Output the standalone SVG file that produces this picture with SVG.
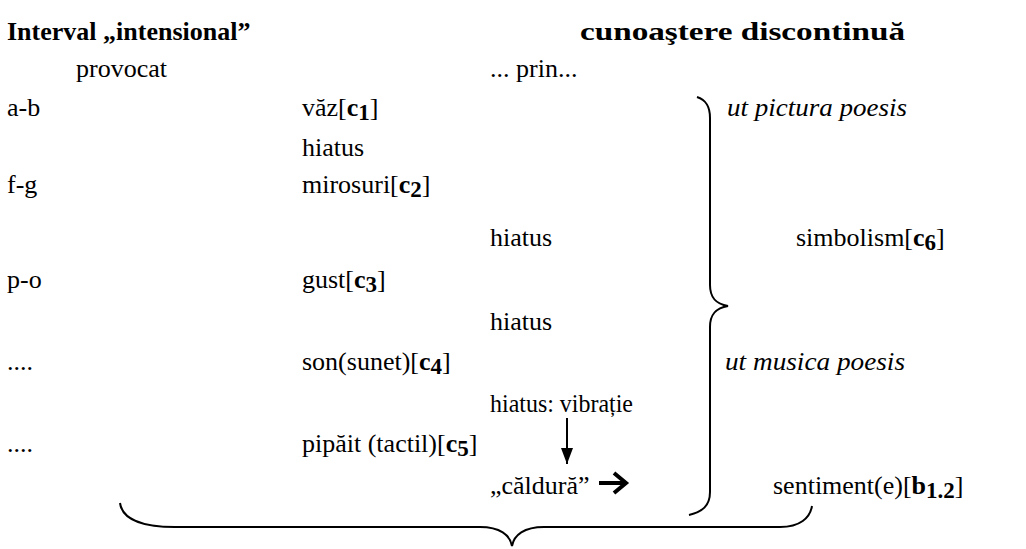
<svg xmlns="http://www.w3.org/2000/svg" width="1026" height="549" viewBox="0 0 1026 549">
<defs>
<marker id="ah" viewBox="0 0 12 16" refX="6" refY="16" markerWidth="12" markerHeight="16" orient="0" markerUnits="userSpaceOnUse">
<path d="M0,0 L12,0 L6,16 Z" fill="#000"/>
</marker>
</defs>
<rect width="1026" height="549" fill="#fff"/>
<g id="headers" fill="#000" font-family="Liberation Serif" font-size="26">
<text x="7" y="40" font-family="Liberation Serif" font-size="26" font-weight="bold">Interval „intensional”</text>
<text x="580" y="40" font-family="Liberation Serif" font-size="26" font-weight="bold" textLength="325" lengthAdjust="spacingAndGlyphs">cunoaştere discontinuă</text>
<text x="76" y="77" font-family="Liberation Serif" font-size="26">provocat</text>
<text x="490" y="77" font-family="Liberation Serif" font-size="26">... prin...</text>
</g>
<g id="col-left" fill="#000" font-family="Liberation Serif" font-size="26">
<text x="7" y="116" font-family="Liberation Serif" font-size="26">a-b</text>
<text x="7" y="193" font-family="Liberation Serif" font-size="26">f-g</text>
<text x="7" y="288" font-family="Liberation Serif" font-size="26">p-o</text>
<text x="7" y="370" font-family="Liberation Serif" font-size="26">....</text>
<text x="7" y="452" font-family="Liberation Serif" font-size="26">....</text>
</g>
<g id="senses" fill="#000" font-family="Liberation Serif" font-size="26">
<text id="n-vaz" x="302" y="116" font-family="Liberation Serif" font-size="26">văz[<tspan font-weight="bold">c</tspan><tspan font-weight="bold" font-size="23" dy="4">1</tspan><tspan dy="-4">]</tspan></text>
<text id="n-hiatus1" x="302" y="156" font-family="Liberation Serif" font-size="26">hiatus</text>
<text id="n-mirosuri" x="302" y="193" font-family="Liberation Serif" font-size="26">mirosuri[<tspan font-weight="bold">c</tspan><tspan font-weight="bold" font-size="23" dy="4">2</tspan><tspan dy="-4">]</tspan></text>
<text id="n-hiatus2" x="490" y="246" font-family="Liberation Serif" font-size="26">hiatus</text>
<text id="n-gust" x="302" y="288" font-family="Liberation Serif" font-size="26">gust[<tspan font-weight="bold">c</tspan><tspan font-weight="bold" font-size="23" dy="4">3</tspan><tspan dy="-4">]</tspan></text>
<text id="n-hiatus3" x="490" y="330" font-family="Liberation Serif" font-size="26">hiatus</text>
<text id="n-son" x="302" y="370" font-family="Liberation Serif" font-size="26">son(sunet)[<tspan font-weight="bold">c</tspan><tspan font-weight="bold" font-size="23" dy="4">4</tspan><tspan dy="-4">]</tspan></text>
<text id="n-vibratie" x="490" y="412" font-family="Liberation Serif" font-size="26" textLength="143" lengthAdjust="spacingAndGlyphs">hiatus: vibrație</text>
<text id="n-pipait" x="302" y="452" font-family="Liberation Serif" font-size="26">pipăit (tactil)[<tspan font-weight="bold">c</tspan><tspan font-weight="bold" font-size="23" dy="4">5</tspan><tspan dy="-4">]</tspan></text>
<text id="n-caldura" x="490" y="494" font-family="Liberation Serif" font-size="26">„căldură”</text>
</g>
<g id="right" fill="#000" font-family="Liberation Serif" font-size="26">
<text id="n-pictura" x="727" y="116" font-family="Liberation Serif" font-size="26" font-style="italic" textLength="180" lengthAdjust="spacingAndGlyphs">ut pictura poesis</text>
<text id="n-simbolism" x="796" y="246" font-family="Liberation Serif" font-size="26">simbolism[<tspan font-weight="bold">c</tspan><tspan font-weight="bold" font-size="23" dy="4">6</tspan><tspan dy="-4">]</tspan></text>
<text id="n-musica" x="725" y="370" font-family="Liberation Serif" font-size="26" font-style="italic" textLength="180" lengthAdjust="spacingAndGlyphs">ut musica poesis</text>
<text id="n-sentiment" x="773" y="494" font-family="Liberation Serif" font-size="26">sentiment(e)[<tspan font-weight="bold">b</tspan><tspan font-weight="bold" font-size="23" dy="4">1.2</tspan><tspan dy="-4">]</tspan></text>
</g>
<g id="connectors" fill="none" stroke="#000" stroke-width="2">
<path d="M697,97 C706,100 710,106 710,118 L710,285 C710,298 716,304 728,306 C716,308 710,314 710,327 L710,492 C710,506 702,512 689,515"/>
<path d="M120,503 C122,518 140,527 175,527 L480,527 C500,527 510,535 512,546 C514,535 524,527 544,527 L780,527 C800,527 810,518 812,506"/>
<line x1="567" y1="418" x2="567" y2="464" marker-end="url(#ah)"/>
<path d="M599,483 L625,483 M614,473 L626,483 L614,493" stroke-width="4"/>
</g>
</svg>
